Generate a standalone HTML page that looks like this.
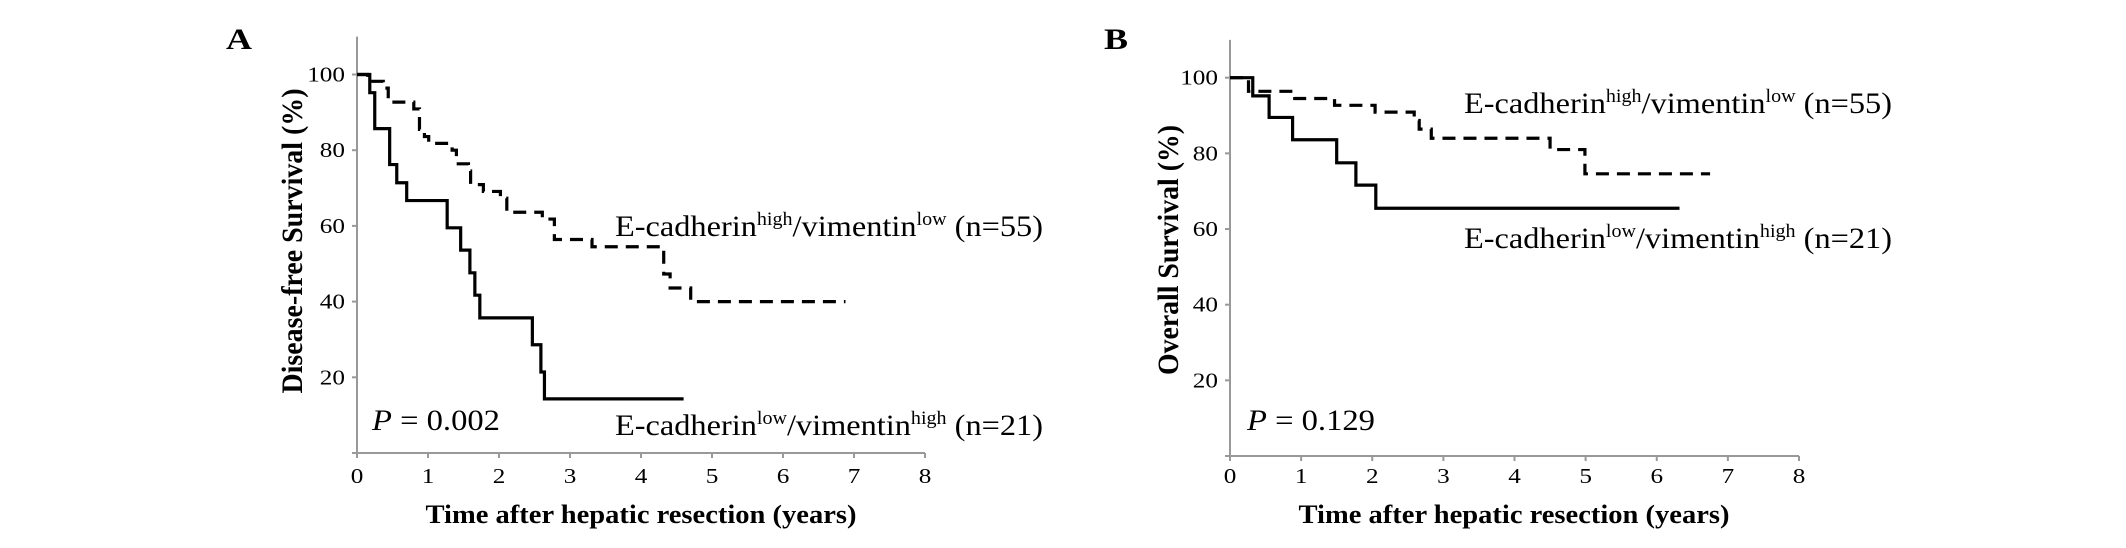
<!DOCTYPE html>
<html><head><meta charset="utf-8"><style>
html,body{margin:0;padding:0;background:#fff;}
svg{display:block;font-family:"Liberation Serif",serif;}
</style></head><body>
<svg id="chart" width="2126" height="548" viewBox="0 0 2126 548" xmlns="http://www.w3.org/2000/svg"></svg>
<script>
// ---- data ----
const xTicks = [0,1,2,3,4,5,6,7,8];
const yTicks = [20,40,60,80,100];
// Panel A: disease-free survival
const aLowTimes  = [0,0.18,0.25,0.46,0.56,0.70,1.27,1.46,1.59,1.66,1.73,2.47,2.59,2.64];
const aLowVals   = [100,95.2,85.7,76.2,71.4,66.7,59.5,53.6,47.6,41.7,35.7,28.6,21.4,14.3];
const aLowEnd = 4.6;
const aHighTimes = [0,0.15,0.37,0.44,0.80,0.88,0.95,1.01,1.34,1.40,1.57,1.60,1.78,2.02,2.11,2.61,2.78,3.31,4.32,4.41,4.70];
const aHighVals  = [100,98.2,96.4,92.7,90.9,85.5,83.6,81.8,80.0,76.4,74.5,70.9,69.1,67.3,63.6,61.8,56.4,54.5,47.3,43.6,40.0];
const aHighEnd = 6.88;
// Panel B: overall survival
const bLowTimes  = [0,0.32,0.55,0.88,1.50,1.77,2.05];
const bLowVals   = [100,95.2,89.5,83.6,77.5,71.6,65.5];
const bLowEnd = 6.32;
const bHighTimes = [0,0.26,0.91,1.47,2.04,2.59,2.66,2.83,4.50,4.99];
const bHighVals  = [100,96.4,94.5,92.7,90.9,88.7,86.4,84.0,81.0,74.6];
const bHighEnd = 6.75;

const NS="http://www.w3.org/2000/svg";
const svg=document.getElementById('chart');
const SX=1.2;
function el(tag,attrs,parent){const e=document.createElementNS(NS,tag);for(const k in attrs)e.setAttribute(k,attrs[k]);(parent||svg).appendChild(e);return e;}

function txt(x,y,str,size,opts,parent){
  const g=el('g',{transform:`translate(${x},${y}) scale(${SX},1)`+(opts.rot?' rotate(-90)':'')},parent);
  const t=el('text',{x:0,y:0,'font-size':size,'text-anchor':opts.anchor||'start','font-weight':opts.bold?'bold':'normal','fill':'#000'},g);
  if(opts.len){t.setAttribute('textLength',opts.len);t.setAttribute('lengthAdjust','spacingAndGlyphs');}
  if(opts.italicP){const p=el('tspan',{'font-style':'italic'},t);p.textContent='P';const r=el('tspan',{},t);r.textContent=str;}
  else if(opts.parts){opts.parts.forEach(pt=>{const s=el('tspan',pt.sup?{'font-size':size*0.62,dy:pt.dy}:{'dy':pt.dy||0},t);s.textContent=pt.t;});}
  else t.textContent=str;
  return t;
}

function panel(cfg){
  const g=el('g',{});
  
  
  const X=v=>cfg.x0+(cfg.x8-cfg.x0)*v/8;
  const Y=v=>cfg.y0-(cfg.y0-cfg.y100)*v/100;
  const ax=el('g',{stroke:'#999','stroke-width':2},g);
  
  
  el('line',{x1:X(0),y1:Y(0),x2:X(0),y2:Y(110)},ax);
  el('line',{x1:X(0)-5,y1:Y(0),x2:X(8),y2:Y(0)},ax);
  yTicks.forEach(v=>{
    el('line',{x1:X(0)-5,y1:Y(v),x2:X(0),y2:Y(v)},ax);
    const t=txt(X(0)-12,Y(v)+7,String(v),21,{anchor:'end'},g);
    
    
  });
  xTicks.forEach(v=>{
    el('line',{x1:X(v),y1:Y(0),x2:X(v),y2:Y(0)+5},ax);
    const t=txt(X(v),483,String(v),21,{anchor:'middle'},g);
    
    
  });
  function step(times,vals,end,dash,name){
    let d=`M${X(times[0])},${Y(vals[0])}`;
    for(let i=1;i<times.length;i++){d+=` H${X(times[i])} V${Y(vals[i])}`;}
    d+=` H${X(end)}`;
    const p=el('path',{d:d,fill:'none',stroke:'#000','stroke-width':3.2},g);
    if(dash)p.setAttribute('stroke-dasharray','13 8');
    
    
  }
  step(cfg.hiT,cfg.hiV,cfg.hiE,true,'curve-ecad-high');
  step(cfg.loT,cfg.loV,cfg.loE,false,'curve-ecad-low');
  let t=txt(cfg.lblX,49,cfg.lbl,30,{bold:true},g);
  
  
  t=txt(cfg.ytX,cfg.ytY,cfg.yTitle,25,{bold:true,rot:true,anchor:'middle',len:cfg.ytLen},g);
  
  
  t=txt(cfg.xtX,523,'Time after hepatic resection (years)',26,{bold:true,anchor:'middle',len:431/SX},g);
  
  
  t=txt(cfg.pX,430,' = '+cfg.p,30,{italicP:true,len:128/SX},g);
  
  
  t=txt(cfg.l1X,cfg.l1Y,'',30,{len:428/SX,parts:[{t:'E-cadherin'},{t:'high',sup:1,dy:-11},{t:'/vimentin',dy:11},{t:'low',sup:1,dy:-11},{t:' (n=55)',dy:11}]},g);
  
  
  t=txt(cfg.l2X,cfg.l2Y,'',30,{len:428/SX,parts:[{t:'E-cadherin'},{t:'low',sup:1,dy:-11},{t:'/vimentin',dy:11},{t:'high',sup:1,dy:-11},{t:' (n=21)',dy:11}]},g);
  
  
}

panel({name:'panel-a',x0:357,x8:925,y0:453,y100:74.5,lbl:'A',lblX:226,
  yTitle:'Disease-free Survival (%)',ytX:302,ytY:241,ytLen:305,xtX:641,
  p:'0.002',pX:372,l1X:615,l1Y:236,l2X:615,l2Y:435,
  hiT:aHighTimes,hiV:aHighVals,hiE:aHighEnd,loT:aLowTimes,loV:aLowVals,loE:aLowEnd});
panel({name:'panel-b',x0:1230,x8:1799,y0:456,y100:77.7,lbl:'B',lblX:1104,
  yTitle:'Overall Survival (%)',ytX:1178,ytY:250,ytLen:250,xtX:1514,
  p:'0.129',pX:1247,l1X:1464,l1Y:113,l2X:1464,l2Y:248,
  hiT:bHighTimes,hiV:bHighVals,hiE:bHighEnd,loT:bLowTimes,loV:bLowVals,loE:bLowEnd});
</script>
</body></html>
